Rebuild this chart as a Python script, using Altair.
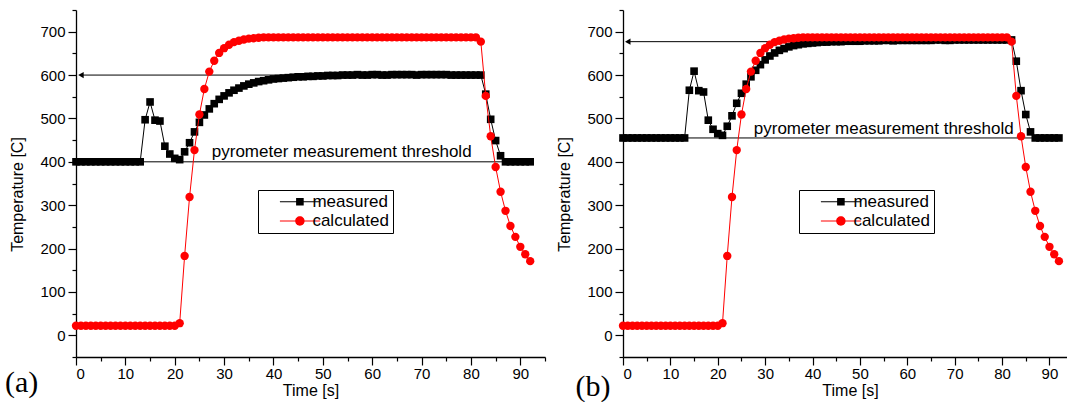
import altair as alt
import pandas as pd

# ---------------- data ----------------
t = list(range(93))

measured_a = ([400] * 14 +
              [497, 538, 496, 494, 436, 418, 408, 405, 423, 444, 469, 491, 508, 522, 534, 544,
               552, 559, 565, 570, 575, 579, 582, 585, 587, 589, 591, 592, 593, 594, 595, 596,
               596, 597, 597, 598, 598] +
              [599, 599, 599, 600, 600, 600, 601, 600, 600, 601,
               601, 600, 600, 601, 601, 601, 601, 601, 600, 601,
               601, 601, 601, 601, 601, 600, 600, 600, 600, 600,
               600, 600] +
              [556, 498, 449, 414] + [400] * 6)

measured_b = ([455] * 14 +
              [565, 609, 564, 561, 496, 475, 465, 461, 482, 506, 535, 558, 579, 596, 611, 624,
               635, 644, 651, 657, 661, 665, 668, 670, 672, 673, 674, 675, 676, 676, 677, 677,
               677, 678, 678, 678, 678] +
              [679, 679, 679, 679, 680, 680, 679, 680, 680, 680,
               680, 680, 680, 680, 680, 681, 681, 680, 680, 681,
               681, 681, 681, 681, 681, 681, 681, 681, 681, 681,
               681, 681] +
              [632, 564, 509, 469] + [455] * 6)

calculated = ([22] * 21 +
              [28, 183, 319, 427, 509, 568, 608, 633, 651, 662, 670, 676, 679, 682, 684, 685, 686] +
              [687] * 44 +
              [677] +
              [552, 459, 388, 331, 287, 252, 227, 204, 187, 171])

series_names = ["measured", "calculated"]
threshold_values = [400, 455]          # pyrometer measurement threshold
arrow_values = [600, 677]              # horizontal arrow levels
threshold_span = [0, 92]               # t range of threshold line
arrow_span = [1, 82]                   # t range of arrow line
threshold_text = "pyrometer measurement threshold"
threshold_text_pos = [(27.5, 411), (27.6, 465)]
panel_labels = ["(a)", "(b)"]
x_max = [95, 93.7]

FONT = "Liberation Sans"

# legend symbols (pixel units: size 4 -> scale 1)
PATH_SQ = ("M10.2,-0.5H50.2V0.5H10.2Z "
           "M26.4,-3.8H34V3.8H26.4Z")
PATH_CI = ("M10.2,-0.5H50.2V0.5H10.2Z "
           "M34.9,0A4.7,4.7,0,1,1,25.5,0A4.7,4.7,0,1,1,34.9,0Z")


def panel(measured, thr, arrow_v, thr_pos, label, xmax, width, legend_x,
          label_dx, label_dy, title_x=None):
    df = pd.DataFrame({"t": t, "measured": measured, "calculated": calculated})
    long = df.melt("t", var_name="series", value_name="v")

    xs = alt.Scale(domain=[0, xmax], nice=False, zero=False)
    ys = alt.Scale(domain=[-50, 750], nice=False, zero=False)
    xvals = [v for v in range(0, 100, 5) if v <= xmax]
    xaxis_kw = dict(
        values=xvals, title="Time [s]",
        labelExpr="datum.value % 10 ? '' : datum.label",
        tickSize={"condition": {"test": "datum.value % 10 !== 0", "value": 4}, "value": 8},
        labelPadding=1, titlePadding=1, grid=False,
    )
    if title_x is not None:
        xaxis_kw["titleX"] = title_x
    xaxis = alt.Axis(**xaxis_kw)
    yaxis = alt.Axis(
        values=list(range(-50, 800, 50)), title="Temperature [C]",
        labelExpr="(datum.value % 100 || datum.value < 0) ? '' : datum.label",
        tickSize={"condition": {"test": "datum.value % 100 !== 0", "value": 4}, "value": 8},
        labelPadding=3, titlePadding=14, titleY=184, grid=False,
    )
    X = alt.X("t:Q", scale=xs, axis=xaxis)
    Y = alt.Y("v:Q", scale=ys, axis=yaxis)

    rules = pd.DataFrame({
        "t": [threshold_span[0], arrow_span[0]],
        "t2": [threshold_span[1], arrow_span[1]],
        "v": [thr, arrow_v],
    })
    rule_layer = alt.Chart(rules).mark_rule(color="black", strokeWidth=1).encode(
        x=X, x2="t2:Q", y=Y)

    head = alt.Chart(pd.DataFrame({"t": [1.0], "v": [arrow_v]})).mark_point(
        shape="triangle-left", filled=True, size=40, color="black", opacity=1
    ).encode(x=X, y=Y)

    mdf = long[long.series == "measured"]
    cdf = long[long.series == "calculated"]
    m_line = alt.Chart(mdf).mark_line(color="black", strokeWidth=1).encode(x=X, y=Y)
    m_pts = alt.Chart(mdf).mark_point(shape="square", filled=True, size=58,
                                      color="black", opacity=1).encode(x=X, y=Y)
    c_line = alt.Chart(cdf).mark_line(color="red", strokeWidth=1).encode(x=X, y=Y)
    c_pts = alt.Chart(cdf).mark_point(shape="circle", filled=True, size=70,
                                      color="red", opacity=1).encode(x=X, y=Y)

    txt = alt.Chart(pd.DataFrame({"t": [thr_pos[0]], "v": [thr_pos[1]],
                                  "s": [threshold_text]})).mark_text(
        align="left", baseline="alphabetic", font=FONT, fontSize=17, color="black"
    ).encode(x=X, y=Y, text="s:N")

    leg = dict(orient="none", legendX=legend_x, legendY=180, direction="vertical",
               title=None, strokeColor="black", fillColor="white", padding=3.2,
               labelFont=FONT, labelFontSize=17, labelColor="black", labelOffset=34.2,
               rowPadding=1.3, symbolStrokeWidth=0, symbolSize=4, labelLimit=300)
    legend_layer = alt.Chart(long).transform_filter("datum.t < 0").mark_point(
        filled=True, size=4, opacity=1
    ).encode(
        x=X, y=Y,
        color=alt.Color("series:N", scale=alt.Scale(domain=series_names, range=["black", "red"]),
                        legend=alt.Legend(**leg)),
        shape=alt.Shape("series:N", scale=alt.Scale(domain=series_names, range=[PATH_SQ, PATH_CI]),
                        legend=alt.Legend(**leg)),
    )

    lab = alt.Chart(pd.DataFrame({"s": [label]})).mark_text(
        align="left", baseline="alphabetic", font="Liberation Serif", fontSize=30, color="black"
    ).encode(x=alt.value(label_dx), y=alt.value(label_dy), text="s:N")

    return alt.layer(rule_layer, head, txt, m_line, m_pts, c_line, c_pts, legend_layer, lab
                     ).properties(width=width, height=347)


left = panel(measured_a, threshold_values[0], arrow_values[0], threshold_text_pos[0],
             panel_labels[0], x_max[0], 469, 182, -71, 381.5)
right = panel(measured_b, threshold_values[1], arrow_values[1], threshold_text_pos[1],
              panel_labels[1], x_max[1], 444, 176, -47.5, 386, title_x=227)

chart = alt.hconcat(left, right, spacing=78, bounds="flush").resolve_scale(
    color="independent", shape="independent"
).resolve_legend(
    color="independent", shape="independent"
).properties(
    padding={"left": 5, "top": 9, "right": 0, "bottom": 0}
).configure_view(stroke=None).configure_axis(
    labelFont=FONT, labelFontSize=15, labelColor="black",
    titleFont=FONT, titleFontSize=16, titleFontWeight="normal", titleColor="black",
    domainColor="black", domainWidth=1.3, tickColor="black", tickWidth=1.2,
)

chart.save("out.html", embed_options={"renderer": "svg", "actions": False})
